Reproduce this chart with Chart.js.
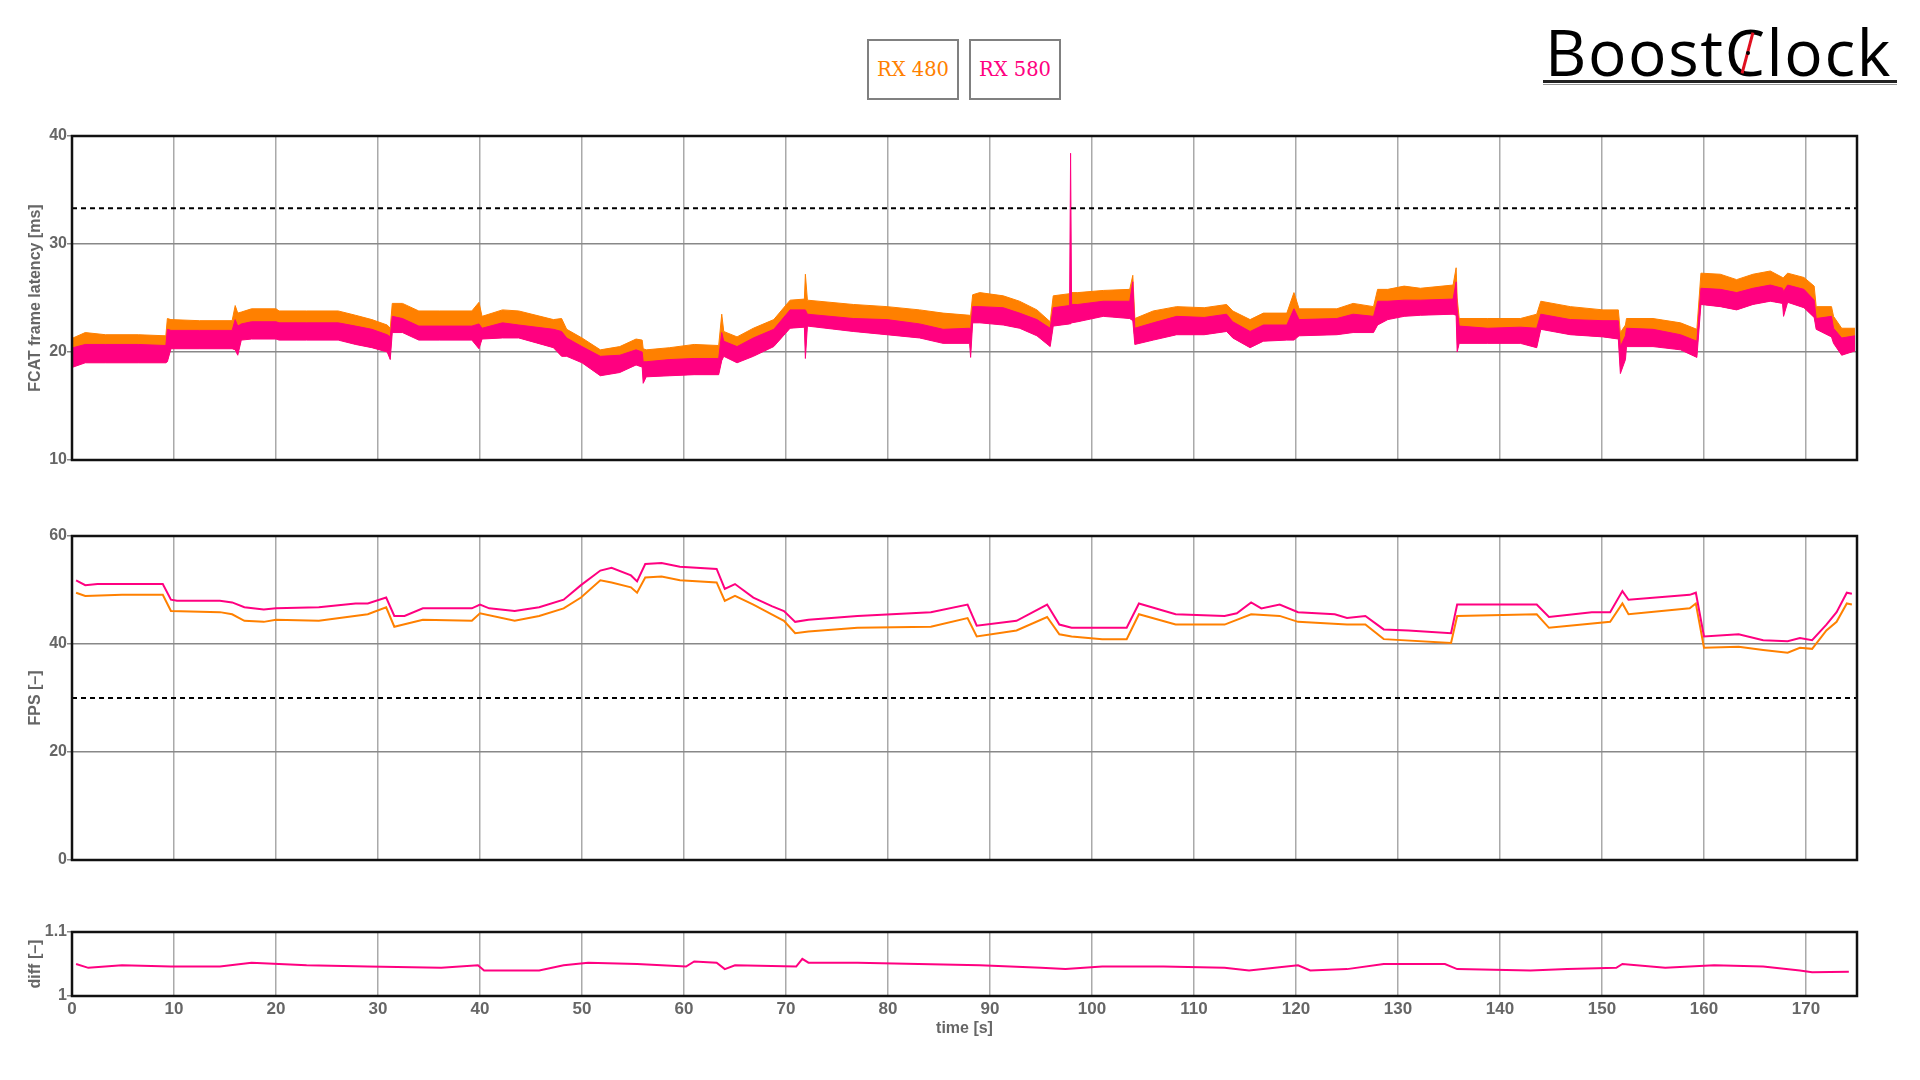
<!DOCTYPE html>
<html>
<head>
<meta charset="utf-8">
<script src="https://cdn.jsdelivr.net/npm/chart.js@4.4.0/dist/chart.umd.min.js"></script>
<style>
body { margin: 0; width: 1920px; height: 1080px; background: #fff; position: relative; overflow: hidden; }
canvas { position: absolute; left: 0; }
.leg { position: absolute; top: 39px; width: 88px; height: 57px; border: 2px solid #808080; font-family: 'DejaVu Serif', serif; font-size: 19.5px; text-align: center; line-height: 57px; background: #fff; }
#logo { position: absolute; left: 1545px; top: 21px; font-family: 'Open Sans', sans-serif; font-size: 64px; line-height: 62px; letter-spacing: 1.6px; color: #000; white-space: nowrap; }
#logoLine { position: absolute; left: 1543px; top: 80px; width: 354px; height: 1px; border-top: 3px solid #222; border-bottom: 1px solid #999; }
#needle { position: absolute; left: 1746px; top: 32px; width: 3px; height: 42px; background: #e01020; transform: rotate(15deg); }
#needleDot { position: absolute; left: 1746px; top: 51px; width: 4px; height: 4px; border-radius: 2px; background: #000; }
</style>
</head>
<body>
<div class="leg" style="left:867px;color:#ff8000">RX 480</div>
<div class="leg" style="left:969px;color:#ff0080">RX 580</div>
<div id="logo">BoostClock</div>
<div id="logoLine"></div>
<div id="needle"></div>
<div id="needleDot"></div>

<canvas id="latChart" width="1870" height="470" style="top:0"></canvas>
<canvas id="fpsChart" width="1870" height="400" style="top:470px"></canvas>
<canvas id="diffChart" width="1870" height="190" style="top:870px"></canvas>

<script>
// frame latency, band edges (ms)
const latTime = [0.1,1.3,3.3,6.5,9.2,9.35,9.7,12.5,15.7,16.0,16.25,16.6,17.6,20.0,20.3,23.0,26.1,27.8,29.4,30.9,31.2,31.4,32.4,34.0,36.0,39.2,39.9,40.2,42.2,43.8,
	47.2,48.0,48.5,50.0,51.8,53.7,55.3,55.9,56.0,56.3,58.6,61.0,63.4,63.7,63.9,65.2,66.8,68.8,70.4,71.8,71.9,72.1,76.6,79.9,83.1,85.4,88.0,
	88.1,88.3,89.0,91.3,92.9,94.6,95.9,96.2,97.8,97.9,98.0,98.6,101.1,103.7,104.0,104.2,106.0,108.3,111.0,113.2,113.8,115.5,116.8,119.1,119.8,120.3,124.0,125.6,127.6,128.0,129.0,130.6,132.2,
	135.4,135.7,135.8,136.0,138.8,142.0,143.6,144.0,146.9,150.1,151.6,151.8,152.3,152.4,155.0,157.7,159.3,159.7,161.6,163.2,164.8,166.5,167.7,167.8,168.2,169.8,170.8,171.0,172.5,172.7,173.5,174.8];

const rx480LatTop = [21.3,21.8,21.6,21.6,21.5,23.1,23.0,22.9,22.9,24.3,23.6,23.7,24.0,24.0,23.8,23.8,23.8,23.4,23.0,22.5,22.2,24.5,24.5,23.8,23.8,23.8,24.6,23.3,23.9,23.8,
	23.0,23.1,22.1,21.3,20.2,20.5,21.2,21.1,20.3,20.2,20.4,20.7,20.6,23.5,21.9,21.4,22.2,23.0,24.8,24.9,27.2,24.8,24.4,24.2,23.9,23.6,23.4,
	23.4,25.3,25.5,25.2,24.7,23.9,22.8,25.2,25.4,25.4,25.5,25.5,25.7,25.8,27.1,23.1,23.8,24.2,24.1,24.4,23.8,23.0,23.6,23.6,25.5,24.0,24.0,24.5,24.2,25.8,25.8,26.1,25.9,
	26.2,27.8,25.0,23.1,23.1,23.1,23.5,24.7,24.2,23.9,23.9,21.8,22.5,23.1,23.1,22.7,22.1,27.3,27.2,26.7,27.2,27.5,26.9,26.9,27.3,26.9,26.1,24.2,24.2,23.3,22.2,22.2];

const rx580LatTop = [20.4,20.7,20.7,20.7,20.6,22.1,22.0,22.0,22.0,23.0,22.4,22.6,22.8,22.8,22.7,22.7,22.7,22.4,22.1,21.6,21.4,23.3,23.1,22.4,22.4,22.4,22.6,22.2,22.7,22.5,
	22.1,21.9,21.3,20.5,19.6,19.7,20.2,20.0,19.1,19.1,19.3,19.4,19.4,21.8,21.0,20.5,21.3,22.1,23.9,23.9,23.9,23.5,23.1,23.0,22.6,22.1,22.2,
	22.0,24.2,24.2,24.1,23.6,23.0,22.2,24.1,24.3,38.4,24.4,24.4,24.7,24.7,26.5,22.2,22.7,23.3,23.2,23.5,22.8,21.9,22.5,22.5,24.0,23.0,23.1,23.5,23.3,24.7,24.7,24.8,24.8,
	24.9,26.5,24.0,22.4,22.2,22.3,22.2,23.5,23.0,22.9,22.9,20.5,21.5,22.2,22.1,21.6,21.0,25.9,25.8,25.5,25.9,26.2,25.9,25.6,26.2,25.8,24.8,23.1,23.3,22.2,21.3,21.5];

const rx580LatBottom = [18.6,19.0,19.0,19.0,19.0,19.1,20.3,20.3,20.3,20.2,19.7,21.1,21.2,21.2,21.1,21.1,21.1,20.7,20.4,20.0,19.3,21.8,21.8,21.1,21.1,21.1,20.3,21.2,21.3,21.3,
	20.4,19.6,19.6,19.0,17.8,18.1,18.8,18.6,17.1,17.7,17.8,17.9,17.9,19.2,19.6,19.0,19.6,20.5,22.2,22.3,19.4,22.4,21.9,21.6,21.3,20.8,20.8,
	19.5,22.7,22.7,22.5,22.2,21.5,20.5,22.4,22.6,22.6,22.7,22.8,23.3,23.1,22.9,20.7,21.1,21.6,21.6,21.9,21.3,20.4,21.0,21.1,21.1,21.5,21.6,21.8,21.8,22.5,23.0,23.3,23.4,
	23.5,23.4,20.0,20.8,20.8,20.8,20.4,22.1,21.6,21.4,21.2,18.0,19.3,20.5,20.5,20.2,19.5,24.4,24.2,23.9,24.4,24.7,24.5,23.3,24.6,24.1,23.2,22.1,21.4,20.8,19.7,20.1];

// fps
const fpsTime580 = [0.4,1.3,2.5,4.9,8.5,8.9,9.7,10.3,14.5,15.7,16.9,18.8,20.0,24.2,27.8,29.0,30.8,31.6,32.6,34.4,39.2,40.0,40.9,43.4,45.8,48.2,49.9,51.8,52.9,54.8,
	55.4,56.2,57.8,59.6,63.2,64.0,65.0,66.8,68.6,69.8,70.9,72.2,77.0,84.2,87.8,88.7,92.6,95.6,96.8,98.0,101.0,103.4,104.6,108.2,113.0,114.2,115.6,116.6,118.4,120.2,
	123.8,125.0,126.8,128.6,131.0,135.2,135.8,143.6,144.8,149.0,150.8,152.0,152.6,158.6,159.2,160.0,163.4,165.8,168.2,169.4,170.6,172.0,173.0,174.0,174.5];
const rx580Fps = [51.8,50.9,51.1,51.1,51.1,51.1,48.2,48.0,48.0,47.7,46.8,46.4,46.6,46.8,47.5,47.5,48.6,45.2,45.2,46.6,46.6,47.3,46.6,46.1,46.8,48.2,50.9,53.6,54.1,52.7,
	51.6,54.8,55.0,54.3,53.9,50.2,51.1,48.6,47.0,46.1,44.1,44.5,45.2,45.9,47.3,43.4,44.3,47.3,43.6,43.0,43.0,43.0,47.5,45.5,45.2,45.7,47.7,46.6,47.3,45.9,
	45.5,44.8,45.2,42.7,42.5,42.0,47.3,47.3,45.0,45.9,45.9,49.8,48.2,49.1,49.5,41.4,41.8,40.7,40.5,41.1,40.7,43.6,45.9,49.5,49.3];

const fpsTime480 = [0.4,1.3,4.9,8.9,9.7,14.5,15.7,16.9,18.8,20.0,24.2,29.0,30.8,31.6,34.4,39.2,40.0,43.4,45.8,48.2,
	49.9,51.8,52.9,54.8,55.4,56.2,57.8,59.6,63.2,64.0,65.0,66.8,68.6,69.8,70.9,72.2,77.0,84.2,87.8,88.7,
	92.6,95.6,96.8,98.0,101.0,103.4,104.6,108.2,113.0,115.6,118.4,120.2,125.0,126.8,128.6,135.2,135.8,143.6,144.8,150.8,
	152.0,152.6,158.6,159.2,160.0,163.4,165.8,168.2,169.4,170.6,172.0,173.0,174.0,174.5];
const rx480Fps = [49.5,48.9,49.1,49.1,46.1,45.9,45.5,44.3,44.1,44.5,44.3,45.5,46.8,43.2,44.5,44.3,45.7,44.3,45.2,46.6,
	48.6,51.8,51.4,50.5,49.5,52.3,52.5,51.8,51.4,48.0,48.9,47.3,45.5,44.3,42.0,42.3,43.0,43.2,44.8,41.4,
	42.5,45.0,41.8,41.4,40.9,40.9,45.5,43.6,43.6,45.5,45.2,44.1,43.6,43.6,40.9,40.2,45.2,45.5,43.0,44.1,
	47.5,45.5,46.6,47.5,39.3,39.5,38.9,38.4,39.3,39.1,42.5,44.1,47.5,47.3];

// ratio 580/480
const diffTime = [0.4,1.6,4.9,9.7,14.5,17.6,23.0,29.0,36.2,39.8,40.4,45.8,48.2,50.6,55.4,60.2,61.0,63.2,64.0,65.0,
	71.0,71.6,72.2,77.0,83.0,89.0,95.0,97.4,101.0,107.0,113.0,115.4,120.2,121.4,125.0,128.6,134.6,135.8,143.0,146.6,
	151.4,152.0,156.2,161.0,165.8,169.4,170.6,174.2];
const diffVals = [1.050,1.044,1.048,1.046,1.046,1.052,1.048,1.046,1.044,1.048,1.040,1.040,1.048,1.052,1.050,1.046,1.054,1.052,1.042,1.048,
	1.046,1.058,1.052,1.052,1.050,1.048,1.044,1.042,1.046,1.046,1.044,1.040,1.048,1.040,1.042,1.050,1.050,1.042,1.040,1.042,
	1.044,1.050,1.044,1.048,1.046,1.040,1.037,1.038];

const latLimit = 33.3;
const fpsLimit = 30;
const timeMax = 175;

const orange = '#ff8000';
const pink = '#ff0080';

Chart.defaults.font.family = "'Liberation Sans', Arial, sans-serif";
Chart.defaults.color = '#666';

function toPoints(times, values) {
	return times.map((t, i) => ({ x: t, y: values[i] }));
}

function limitLine(v) {
	return {
		data: [{ x: 0, y: v }, { x: timeMax, y: v }],
		borderColor: '#000',
		borderWidth: 2,
		borderDash: [5, 4],
		pointRadius: 0,
		fill: false,
		order: -1,
	};
}

const frame = {
	id: 'frame',
	afterDraw(chart) {
		const a = chart.chartArea;
		const ctx = chart.ctx;
		ctx.save();
		ctx.strokeStyle = '#111';
		ctx.lineWidth = 2.5;
		ctx.strokeRect(a.left, a.top, a.right - a.left, a.bottom - a.top);
		ctx.restore();
	},
};

function xScale(showLabels, height) {
	return {
		type: 'linear',
		min: 0,
		max: timeMax,
		grid: { color: '#aaa', lineWidth: 1.5, drawTicks: false },
		border: { display: false },
		ticks: { display: showLabels, stepSize: 10, includeBounds: false, padding: 3, font: { size: 17, weight: 'bold' }, color: '#666', maxRotation: 0 },
		title: { display: showLabels, text: 'time [s]', font: { size: 16, weight: 'bold' }, color: '#666', padding: { top: 0, bottom: 22 } },
		afterFit(scale) { scale.height = height; },
	};
}

function yScale(min, max, step, title) {
	return {
		min: min,
		max: max,
		grid: { color: '#888', lineWidth: 1.5, tickLength: 5, tickColor: '#888' },
		border: { display: false },
		ticks: { stepSize: step, padding: 0, font: { size: 16, weight: 'bold' }, color: '#666', callback: (v) => String(Math.round(v * 10) / 10) },
		title: { display: true, text: title, font: { size: 16, weight: 'bold' }, color: '#666', padding: { top: 26, bottom: 0 } },
		afterFit(scale) { scale.width = 72; },
	};
}

function baseOptions(padTop, x, y) {
	return {
		responsive: false,
		animation: false,
		layout: { padding: { top: padTop, right: 13, bottom: 0, left: 0 } },
		plugins: { legend: { display: false }, tooltip: { enabled: false } },
		elements: { point: { radius: 0 }, line: { tension: 0 } },
		scales: { x: x, y: y },
	};
}

new Chart(document.getElementById('latChart'), {
	type: 'line',
	data: {
		datasets: [
			{ data: toPoints(latTime, rx580LatTop), borderColor: pink, borderWidth: 1, fill: false, order: 0 },
			{ data: toPoints(latTime, rx580LatBottom), borderColor: pink, borderWidth: 1, backgroundColor: pink, fill: '-1', order: 0 },
			{ data: toPoints(latTime, rx480LatTop), borderColor: orange, borderWidth: 1, backgroundColor: orange, fill: 1, order: 1 },
			limitLine(latLimit),
		],
	},
	options: baseOptions(136, xScale(false, 10), yScale(10, 40, 10, 'FCAT frame latency [ms]')),
	plugins: [frame],
});

new Chart(document.getElementById('fpsChart'), {
	type: 'line',
	data: {
		datasets: [
			{ data: toPoints(fpsTime580, rx580Fps), borderColor: pink, borderWidth: 2, fill: false, order: 0 },
			{ data: toPoints(fpsTime480, rx480Fps), borderColor: orange, borderWidth: 2, fill: false, order: 1 },
			limitLine(fpsLimit),
		],
	},
	options: baseOptions(66, xScale(false, 10), yScale(0, 60, 20, 'FPS [–]')),
	plugins: [frame],
});

new Chart(document.getElementById('diffChart'), {
	type: 'line',
	data: {
		datasets: [
			{ data: toPoints(diffTime, diffVals), borderColor: pink, borderWidth: 2, fill: false },
		],
	},
	options: baseOptions(62, xScale(true, 64), yScale(1, 1.1, 0.1, 'diff [–]')),
	plugins: [frame],
});
</script>
</body>
</html>
